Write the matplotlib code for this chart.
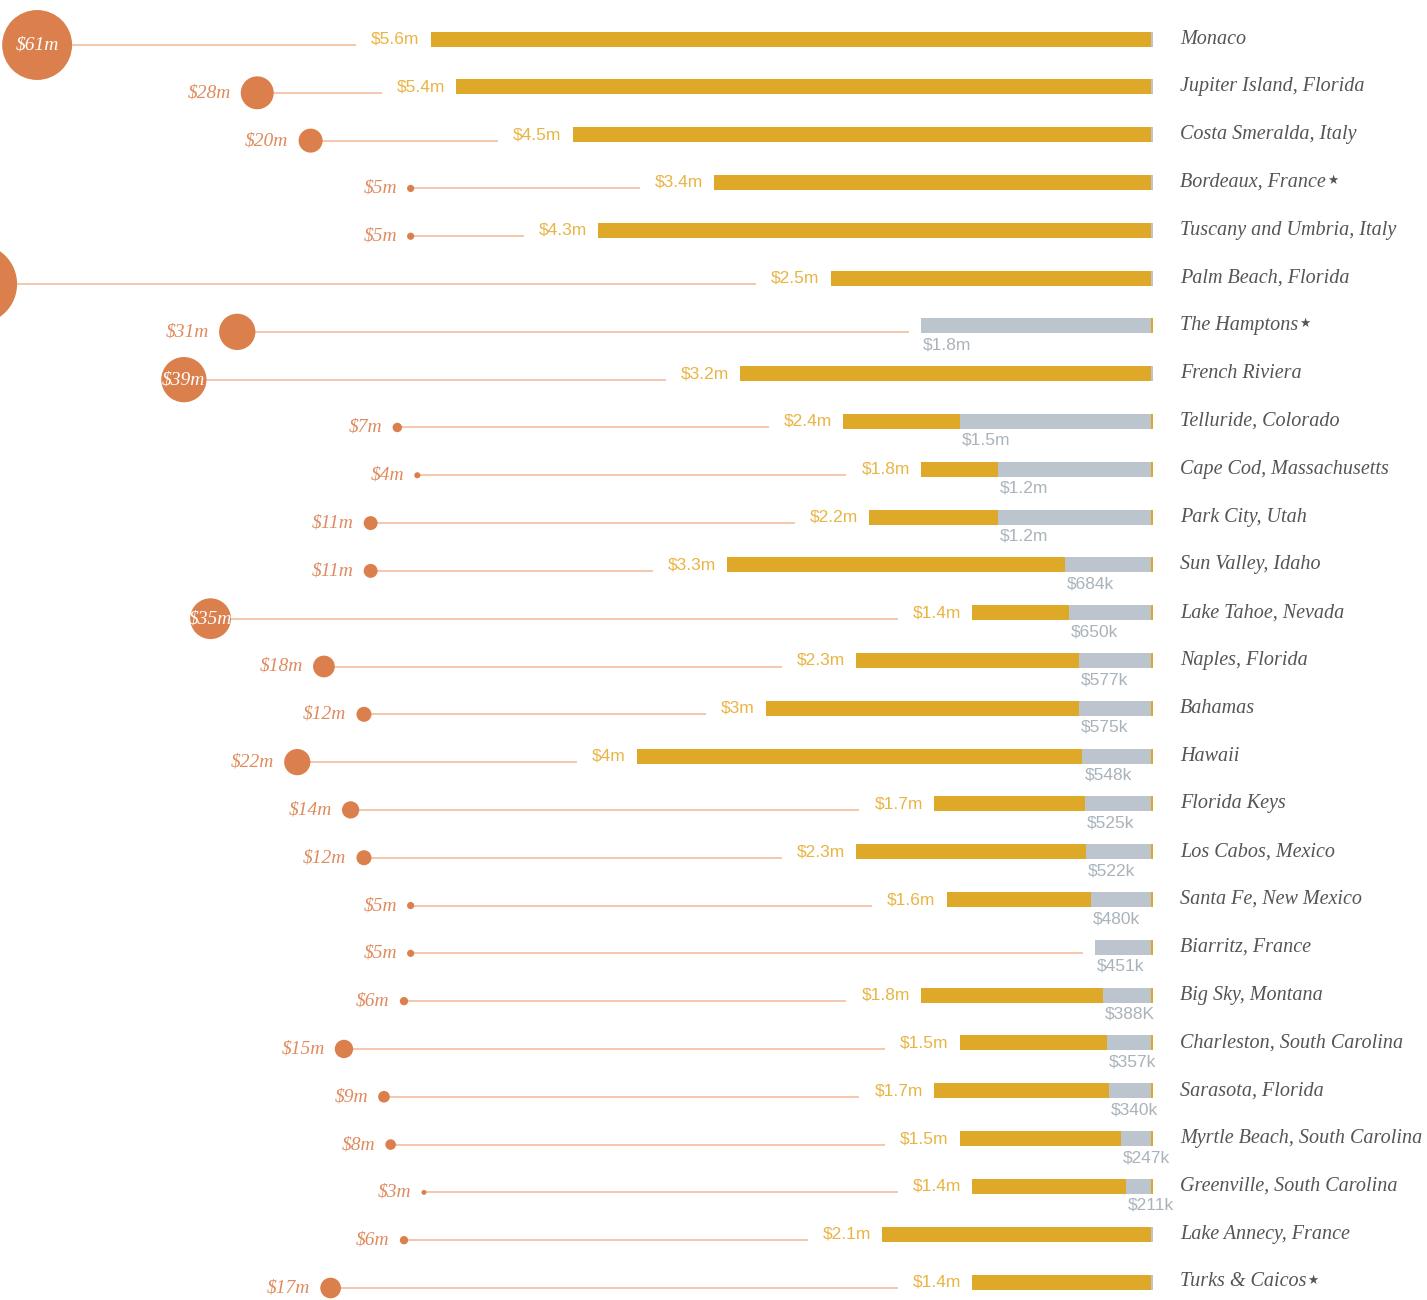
import numpy as np
import matplotlib.pyplot as plt

places = ["Monaco", "Jupiter Island, Florida", "Costa Smeralda, Italy",
          "Bordeaux, France\u2605", "Tuscany and Umbria, Italy",
          "Palm Beach, Florida", "The Hamptons\u2605", "French Riviera",
          "Telluride, Colorado", "Cape Cod, Massachusetts", "Park City, Utah",
          "Sun Valley, Idaho", "Lake Tahoe, Nevada", "Naples, Florida",
          "Bahamas", "Hawaii", "Florida Keys", "Los Cabos, Mexico",
          "Santa Fe, New Mexico", "Biarritz, France", "Big Sky, Montana",
          "Charleston, South Carolina", "Sarasota, Florida",
          "Myrtle Beach, South Carolina", "Greenville, South Carolina",
          "Lake Annecy, France", "Turks & Caicos\u2605"]

# record sale, $m (circles)
record_sale = [61, 28, 20, 5, 5, 70, 31, 39, 7, 4, 11, 11, 35, 18, 12, 22,
               14, 12, 5, 5, 6, 15, 9, 8, 3, 6, 17]

# gold bars, $m
top_price = [5.6, 5.4, 4.5, 3.4, 4.3, 2.5, 0, 3.2, 2.4, 1.8, 2.2, 3.3, 1.4,
             2.3, 3.0, 4.0, 1.7, 2.3, 1.6, 0, 1.8, 1.5, 1.7, 1.5, 1.4, 2.1, 1.4]
top_labels = ["$5.6m", "$5.4m", "$4.5m", "$3.4m", "$4.3m", "$2.5m", "",
              "$3.2m", "$2.4m", "$1.8m", "$2.2m", "$3.3m", "$1.4m", "$2.3m",
              "$3m", "$4m", "$1.7m", "$2.3m", "$1.6m", "", "$1.8m", "$1.5m",
              "$1.7m", "$1.5m", "$1.4m", "$2.1m", "$1.4m"]

# grey bars, $m
avg_price = [0, 0, 0, 0, 0, 0, 1.8, 0, 1.5, 1.2, 1.2, 0.684, 0.650, 0.577,
             0.575, 0.548, 0.525, 0.522, 0.480, 0.451, 0.388, 0.357, 0.340,
             0.247, 0.211, 0, 0]
avg_labels = ["", "", "", "", "", "", "$1.8m", "", "$1.5m", "$1.2m", "$1.2m",
              "$684k", "$650k", "$577k", "$575k", "$548k", "$525k", "$522k",
              "$480k", "$451k", "$388K", "$357k", "$340k", "$247k", "$211k",
              "", ""]

GOLD = "#dea929"
GOLD_TXT = "#e9b443"
GREY = "#bcc5cd"
GREY_TXT = "#a9b3bb"
ORANGE = "#db7f4c"
ORANGE_TXT = "#e08b5e"
LINE = "#f2c3a6"
NAME = "#555555"

W, H = 1427, 1300
fig = plt.figure(figsize=(W / 100, H / 100), dpi=100)
ax = fig.add_axes([0, 0, 1, 1])
n = len(places)
step = (1282 - 39) / (n - 1)
ax.set_xlim(0, W)
ax.set_ylim(26 + (H - 1282) / step, -39 / step)
ax.axis("off")

bar_end = 1153      # right edge of the bars (px)
px_per_m = 129      # bar scale
bar_h = 15 / step
dy = 6 / step       # circle row sits a bit lower than the bar

def bx(v):
    return bar_end - v * px_per_m

def cx(v):
    return 444 - 6.67 * v

def cr(v):
    return 0.56 * v + 0.8

sans = ["Liberation Sans Narrow", "Liberation Sans"]
serif = ["Liberation Serif", "DejaVu Sans"]

rows = np.arange(n)
ax.barh(rows, [g * px_per_m for g in top_price], left=[bx(g) for g in top_price],
        height=bar_h, color=GOLD, zorder=2)
ax.barh(rows, [a * px_per_m for a in avg_price], left=[bx(a) for a in avg_price],
        height=bar_h, color=GREY, zorder=3)
caps = [GOLD if a > 0 else GREY for a in avg_price]
ax.barh(rows, 2, left=bar_end - 2, height=bar_h, color=caps, zorder=4)

renderer = fig.canvas.get_renderer()
inv = ax.transData.inverted()

xs = [cx(v) for v in record_sale]
ys = rows + dy
sizes = [(2 * cr(v) * 0.72) ** 2 for v in record_sale]
ax.scatter(xs, ys, s=sizes, color=ORANGE, linewidths=0, zorder=5)

for i in rows:
    name = places[i]
    if name.endswith("\u2605"):
        t = ax.text(1180, i, name[:-1], ha="left", va="center", fontsize=14.5,
                    style="italic", family=serif, color=NAME)
        bb = t.get_window_extent(renderer)
        ax.text(inv.transform((bb.x1, bb.y0))[0] + 1, i - 2 / step, "\u2605",
                ha="left", va="center", fontsize=9, family="DejaVu Sans",
                color=NAME)
    else:
        ax.text(1180, i, name, ha="left", va="center", fontsize=14.5,
                style="italic", family=serif, color=NAME)
    v = record_sale[i]
    if xs[i] < 0:
        pass  # label falls off the left edge
    elif v >= 35:
        ax.text(xs[i], ys[i], f"${v}m", ha="center", va="center", fontsize=14,
                style="italic", family=serif, color="white", zorder=6)
    else:
        ax.text(xs[i] - cr(v) - 10, ys[i], f"${v}m", ha="right", va="center",
                fontsize=14, style="italic", family=serif, color=ORANGE_TXT)

    start = max(top_price[i], avg_price[i])
    if top_labels[i]:
        t = ax.text(bx(top_price[i]) - 11, i, top_labels[i], ha="right",
                    va="center", fontsize=12.5, family=sans, color=GOLD_TXT)
        bb = t.get_window_extent(renderer)
        end = inv.transform((bb.x0, bb.y0))[0] - 15
    else:
        end = bx(start) - 12
    ax.plot([xs[i], end], [ys[i], ys[i]], color=LINE, lw=1.3, zorder=1,
            solid_capstyle="butt")
    if avg_labels[i]:
        ax.text(bx(avg_price[i]) + 2, i + 19 / step, avg_labels[i], ha="left",
                va="center", fontsize=12.5, family=sans, color=GREY_TXT)

fig.savefig("out.png", dpi=100)
